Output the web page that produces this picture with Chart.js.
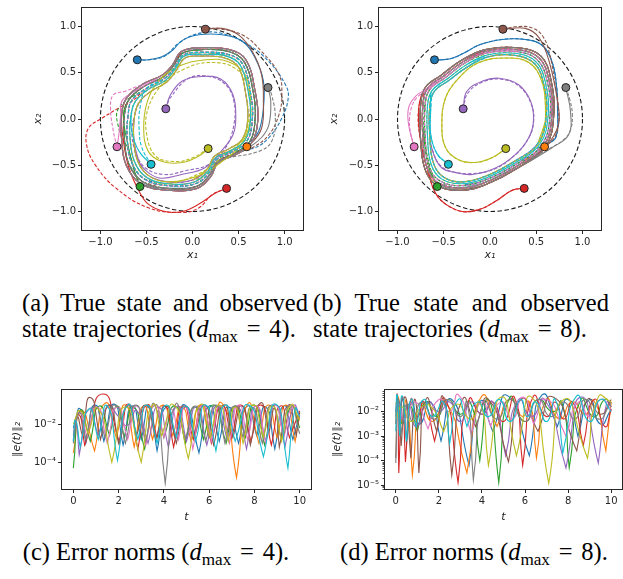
<!DOCTYPE html>
<html>
<head>
<meta charset="utf-8">
<script src="https://cdn.jsdelivr.net/npm/chart.js@4/dist/chart.umd.min.js"></script>
<style>
  html, body { margin: 0; padding: 0; background: #fff; width: 623px; height: 579px; overflow: hidden; position: relative; }
  canvas { position: absolute; }
  .cap { position: absolute; font-family: "Liberation Serif", "Times New Roman", serif; font-size: 24.5px; line-height: 26px; color: #000; text-align: justify; text-align-last: left; }
  .cap.center { text-align: center; text-align-last: center; }
  .cap sub { font-size: 70%; vertical-align: baseline; position: relative; top: 0.3em; }
  .cap .eq { margin: 0 0.36em; }
</style>
</head>
<body>
<canvas id="chartA" width="281" height="265" style="left:29px;top:0"></canvas>
<canvas id="chartB" width="285" height="265" style="left:325px;top:0"></canvas>
<canvas id="chartC" width="305" height="147" style="left:8px;top:380px"></canvas>
<canvas id="chartD" width="312" height="147" style="left:328px;top:380px"></canvas>

<div class="cap" style="left:22px;top:290px;width:286px">(a) True state and observed state trajectories (<i>d</i><sub>max</sub><span class="eq">=</span>4).</div>
<div class="cap" style="left:313px;top:290px;width:296px">(b) True state and observed state trajectories (<i>d</i><sub>max</sub><span class="eq">=</span>8).</div>
<div class="cap center" style="left:6px;top:539px;width:300px">(c) Error norms (<i>d</i><sub>max</sub><span class="eq">=</span>4).</div>
<div class="cap center" style="left:324px;top:539px;width:300px">(d) Error norms (<i>d</i><sub>max</sub><span class="eq">=</span>8).</div>

<script>
// tab10 colours, one per initial condition
const colors = ['#1f77b4', '#ff7f0e', '#2ca02c', '#d62728', '#9467bd', '#8c564b', '#e377c2', '#7f7f7f', '#bcbd22', '#17becf'];

// initial states (same for both phase portraits)
const starts = [[-0.60, 0.64], [0.59, -0.30], [-0.57, -0.73], [0.37, -0.75], [-0.29, 0.11],
                [0.14, 0.97], [-0.82, -0.30], [0.82, 0.34], [0.17, -0.32], [-0.45, -0.49]];

const phaseTicks = [-1.0, -0.5, 0.0, 0.5, 1.0];
const circleRadius = 1;

const cycleA1 = [[-0.77, 0.05], [-0.72, 0.22], [-0.55, 0.37], [-0.32, 0.48], [-0.22, 0.58], [-0.12, 0.73], [0.10, 0.77], [0.40, 0.75], [0.58, 0.64], [0.68, 0.30],
                 [0.71, 0.00], [0.64, -0.26], [0.48, -0.38], [0.28, -0.47], [0.20, -0.62], [0.05, -0.75], [-0.28, -0.77], [-0.56, -0.70], [-0.72, -0.50], [-0.77, -0.22]];
const cycleA2 = [[-0.70, 0.03], [-0.66, 0.20], [-0.50, 0.33], [-0.30, 0.44], [-0.20, 0.55], [-0.10, 0.69], [0.10, 0.72], [0.38, 0.70], [0.54, 0.60], [0.63, 0.28],
                 [0.65, 0.00], [0.59, -0.24], [0.44, -0.35], [0.26, -0.44], [0.18, -0.58], [0.03, -0.70], [-0.27, -0.72], [-0.52, -0.65], [-0.66, -0.47], [-0.71, -0.20]];
const cycleA3 = [[-0.63, 0.03], [-0.58, 0.18], [-0.45, 0.30], [-0.28, 0.40], [-0.18, 0.52], [-0.08, 0.66], [0.10, 0.68], [0.35, 0.66], [0.50, 0.56], [0.58, 0.26],
                 [0.60, 0.00], [0.54, -0.22], [0.40, -0.32], [0.24, -0.40], [0.16, -0.54], [0.00, -0.66], [-0.26, -0.68], [-0.48, -0.61], [-0.60, -0.44], [-0.64, -0.18]];
const cycleA4 = [[-0.74, 0.04], [-0.69, 0.21], [-0.53, 0.35], [-0.31, 0.46], [-0.21, 0.57], [-0.11, 0.71], [0.10, 0.75], [0.39, 0.73], [0.56, 0.62], [0.66, 0.29],
                 [0.68, 0.00], [0.62, -0.25], [0.46, -0.37], [0.27, -0.46], [0.19, -0.60], [0.04, -0.73], [-0.28, -0.75], [-0.54, -0.68], [-0.69, -0.49], [-0.74, -0.21]];
const cycleA5 = [[-0.67, 0.03], [-0.62, 0.19], [-0.48, 0.32], [-0.29, 0.42], [-0.19, 0.54], [-0.09, 0.68], [0.10, 0.70], [0.37, 0.68], [0.52, 0.58], [0.61, 0.27],
                 [0.63, 0.00], [0.57, -0.23], [0.42, -0.34], [0.25, -0.42], [0.17, -0.56], [0.02, -0.68], [-0.27, -0.70], [-0.50, -0.63], [-0.63, -0.46], [-0.68, -0.19]];

const cycleB1 = [[-0.75, 0.15], [-0.70, 0.34], [-0.52, 0.48], [-0.30, 0.64], [-0.05, 0.75], [0.30, 0.77], [0.55, 0.68], [0.66, 0.42],
                 [0.69, 0.05], [0.60, -0.30], [0.30, -0.53], [-0.05, -0.71], [-0.30, -0.77], [-0.57, -0.72], [-0.70, -0.55], [-0.75, -0.22]];
const cycleB2 = [[-0.70, 0.15], [-0.65, 0.32], [-0.48, 0.45], [-0.28, 0.60], [-0.05, 0.71], [0.28, 0.73], [0.51, 0.64], [0.62, 0.40],
                 [0.65, 0.05], [0.56, -0.28], [0.28, -0.49], [-0.05, -0.66], [-0.30, -0.72], [-0.54, -0.67], [-0.66, -0.51], [-0.70, -0.20]];
const cycleB3 = [[-0.65, 0.15], [-0.60, 0.30], [-0.44, 0.42], [-0.25, 0.56], [-0.03, 0.67], [0.26, 0.69], [0.48, 0.60], [0.58, 0.38],
                 [0.61, 0.05], [0.52, -0.26], [0.26, -0.46], [-0.05, -0.62], [-0.30, -0.68], [-0.50, -0.63], [-0.61, -0.48], [-0.65, -0.20]];
const cycleB4 = [[-0.725, 0.15], [-0.675, 0.33], [-0.50, 0.465], [-0.29, 0.62], [-0.05, 0.73], [0.29, 0.75], [0.53, 0.66], [0.64, 0.41],
                 [0.67, 0.05], [0.58, -0.29], [0.29, -0.51], [-0.05, -0.685], [-0.30, -0.745], [-0.555, -0.695], [-0.68, -0.53], [-0.725, -0.21]];
const cycleB5 = [[-0.675, 0.15], [-0.625, 0.31], [-0.46, 0.435], [-0.265, 0.58], [-0.04, 0.69], [0.27, 0.71], [0.495, 0.62], [0.60, 0.39],
                 [0.63, 0.05], [0.54, -0.27], [0.27, -0.475], [-0.05, -0.64], [-0.30, -0.70], [-0.52, -0.65], [-0.635, -0.495], [-0.675, -0.20]];

// (a) transients before settling on a loop, true state
const aTrueHead = [
  [[-0.48, 0.64], [-0.34, 0.67], [-0.22, 0.74], [-0.11, 0.85], [0.07, 0.91], [0.32, 0.91], [0.54, 0.84], [0.68, 0.66], [0.77, 0.41], [0.77, 0.12], [0.72, -0.13]],
  [],
  [[-0.64, -0.53], [-0.71, -0.24], [-0.75, 0.05]],
  [[0.25, -0.80], [0.07, -0.92], [-0.11, -1.0], [-0.30, -1.0], [-0.48, -0.92], [-0.58, -0.78], [-0.69, -0.53], [-0.75, -0.24]],
  [[-0.24, 0.26], [-0.11, 0.41], [0.10, 0.46], [0.31, 0.43], [0.44, 0.26], [0.47, 0.01], [0.44, -0.17], [0.31, -0.35], [0.13, -0.53], [-0.12, -0.60], [-0.34, -0.64], [-0.48, -0.58], [-0.58, -0.46]],
  [[0.32, 0.98], [0.50, 0.91], [0.65, 0.73], [0.75, 0.48], [0.77, 0.19], [0.75, -0.10]],
  [[-0.80, -0.17], [-0.78, 0.05], [-0.77, 0.19], [-0.66, 0.28]],
  [[0.85, 0.19], [0.83, -0.06], [0.75, -0.20], [0.61, -0.31]],
  [[0.07, -0.40], [-0.11, -0.47], [-0.33, -0.46], [-0.48, -0.35], [-0.53, -0.10], [-0.49, 0.19], [-0.37, 0.41], [-0.15, 0.57], [0.14, 0.64], [0.39, 0.62], [0.57, 0.48], [0.63, 0.19], [0.61, -0.10], [0.50, -0.31], [0.32, -0.46], [0.10, -0.60]],
  [[-0.58, -0.35], [-0.66, -0.13], [-0.66, 0.08]]
];
// [loop, first point, number of points]
const aTrueTail = [[3, 11, 26], [0, 12, 28], [3, 1, 26], [0, 0, 26], [2, 19, 22], [0, 11, 26], [0, 3, 24], [0, 12, 26], [2, 16, 20], [4, 1, 26]];

// (a) observed state
const aObsHead = [
  [[-0.48, 0.64], [-0.30, 0.68], [-0.15, 0.82], [0.05, 0.92], [0.30, 0.93], [0.61, 0.80], [0.83, 0.62], [1.01, 0.37], [1.04, 0.23], [0.97, 0.01], [0.83, -0.20], [0.68, -0.31]],
  [[0.52, -0.34]],
  [[-0.62, -0.60], [-0.69, -0.35], [-0.80, -0.10], [-0.80, 0.12]],
  [[0.21, -0.82], [0.07, -0.96], [-0.11, -1.01], [-0.48, -0.96], [-0.84, -0.74], [-1.06, -0.49], [-1.15, -0.28], [-1.13, -0.10], [-0.98, 0.01], [-0.80, 0.12], [-0.66, 0.19]],
  [[-0.24, 0.23], [-0.04, 0.44], [0.18, 0.46], [0.36, 0.37], [0.45, 0.19], [0.45, -0.06], [0.36, -0.31], [0.18, -0.49], [-0.08, -0.56], [-0.30, -0.60], [-0.51, -0.53], [-0.62, -0.35], [-0.66, -0.13]],
  [[0.25, 0.98], [0.54, 0.91], [0.75, 0.73], [0.94, 0.48], [0.97, 0.26], [0.94, 0.05], [0.83, -0.17], [0.65, -0.31]],
  [[-0.86, -0.13], [-0.89, 0.12], [-0.86, 0.26], [-0.73, 0.30], [-0.55, 0.37]],
  [[0.86, 0.26], [0.90, 0.01], [0.86, -0.24], [0.72, -0.35]],
  [[0.00, -0.42], [-0.19, -0.46], [-0.40, -0.40], [-0.50, -0.15], [-0.48, 0.12], [-0.33, 0.37], [-0.11, 0.53], [0.17, 0.61], [0.46, 0.55], [0.60, 0.34], [0.62, 0.05], [0.53, -0.24], [0.35, -0.38], [0.15, -0.55]],
  [[-0.55, -0.31], [-0.58, -0.10], [-0.57, 0.12]]
];
const aObsTail = [[1, 12, 26], [4, 12, 28], [1, 2, 26], [1, 2, 26], [2, 0, 22], [3, 12, 26], [1, 3, 24], [3, 13, 26], [4, 16, 20], [1, 2, 26]];

// (b) true state
const bTrueHead = [
  [[-0.52, 0.64], [-0.40, 0.66], [-0.25, 0.73], [-0.12, 0.80], [0.13, 0.86], [0.38, 0.86], [0.56, 0.80], [0.67, 0.62], [0.72, 0.35], [0.73, 0.12], [0.71, -0.20]],
  [],
  [[-0.66, -0.53], [-0.71, -0.24], [-0.73, 0.12]],
  [[0.24, -0.77], [0.06, -0.89], [-0.12, -0.98], [-0.30, -1.0], [-0.48, -0.92], [-0.59, -0.80], [-0.66, -0.60], [-0.75, -0.24], [-0.77, 0.12]],
  [[-0.25, 0.30], [-0.08, 0.41], [0.10, 0.44], [0.31, 0.37], [0.44, 0.19], [0.47, -0.02], [0.42, -0.20], [0.28, -0.38], [0.06, -0.53], [-0.19, -0.60], [-0.37, -0.58], [-0.52, -0.53], [-0.61, -0.38]],
  [[0.38, 0.98], [0.53, 0.88], [0.64, 0.62], [0.73, 0.19], [0.74, -0.06]],
  [[-0.88, -0.06], [-0.88, 0.12], [-0.80, 0.25], [-0.66, 0.34]],
  [[0.87, 0.08], [0.85, -0.17], [0.67, -0.31]],
  [[0.02, -0.42], [-0.16, -0.47], [-0.34, -0.44], [-0.48, -0.31], [-0.52, -0.06], [-0.48, 0.23], [-0.34, 0.44], [-0.12, 0.61], [0.17, 0.66], [0.42, 0.61], [0.56, 0.41], [0.60, 0.12], [0.58, -0.13], [0.49, -0.31]],
  [[-0.57, -0.38], [-0.64, -0.17], [-0.64, 0.12]]
];
const bTrueTail = [[3, 9, 20], [0, 9, 22], [3, 1, 20], [0, 1, 20], [2, 15, 18], [0, 9, 20], [3, 2, 20], [0, 10, 20], [2, 10, 16], [4, 1, 20]];

// (b) observed state
const bObsHead = [
  [[-0.52, 0.64], [-0.40, 0.66], [-0.25, 0.73], [-0.12, 0.80], [0.13, 0.86], [0.38, 0.86], [0.56, 0.80], [0.67, 0.62], [0.72, 0.35], [0.73, 0.12], [0.71, -0.20]],
  [],
  [[-0.64, -0.55], [-0.70, -0.26], [-0.71, 0.10]],
  [[0.24, -0.77], [0.06, -0.89], [-0.12, -0.98], [-0.30, -1.0], [-0.48, -0.92], [-0.59, -0.80], [-0.66, -0.60], [-0.75, -0.24], [-0.77, 0.12]],
  [[-0.24, 0.28], [-0.08, 0.40], [0.12, 0.43], [0.32, 0.35], [0.45, 0.15], [0.47, -0.05], [0.41, -0.22], [0.27, -0.39], [0.05, -0.54], [-0.20, -0.59], [-0.40, -0.57], [-0.54, -0.50], [-0.62, -0.34]],
  [[0.30, 1.0], [0.47, 0.98], [0.58, 0.88], [0.65, 0.68], [0.70, 0.40], [0.74, 0.10], [0.72, -0.15]],
  [[-0.86, -0.15], [-0.87, 0.00], [-0.85, 0.12], [-0.80, 0.22], [-0.70, 0.30]],
  [[0.86, 0.22], [0.89, 0.05], [0.87, -0.12], [0.80, -0.22], [0.68, -0.30]],
  [[0.02, -0.42], [-0.16, -0.47], [-0.34, -0.44], [-0.48, -0.31], [-0.52, -0.06], [-0.48, 0.23], [-0.34, 0.44], [-0.12, 0.61], [0.17, 0.66], [0.42, 0.61], [0.56, 0.41], [0.60, 0.12], [0.58, -0.13], [0.49, -0.31]],
  [[-0.57, -0.38], [-0.64, -0.17], [-0.64, 0.12]]
];
const bObsTail = [[1, 9, 20], [3, 9, 22], [1, 1, 20], [3, 1, 20], [2, 15, 18], [0, 9, 20], [1, 2, 20], [3, 10, 20], [4, 10, 16], [2, 1, 20]];

// error norms, [t, log10 ||e||] alternating troughs and arches
const timeTicks = [0, 2, 4, 6, 8, 10];
const errTicksC = [1e-4, 1e-2];
const errTicksD = [1e-5, 1e-4, 1e-3, 1e-2];

const errC = [
  [[0,-2.2],[0.3,-1.2],[0.55,-3.0],[0.95,-1.0],[1.35,-2.9],[1.8,-0.95],[2.2,-3.1],[2.6,-1.05],[3.0,-2.8],[3.35,-1.1],[3.7,-3.4],[4.1,-1.1],[4.5,-2.7],[4.95,-1.0],[5.55,-3.5],[6.0,-1.05],[6.45,-2.9],[6.85,-1.1],[7.3,-3.0],[7.7,-1.05],[8.1,-2.6],[8.5,-1.1],[8.9,-3.3],[9.3,-1.05],[9.7,-2.8],[10,-1.5]],
  [[0,-3.5],[0.35,-1.3],[0.94,-3.4],[1.4,-0.9],[1.9,-2.7],[2.3,-1.0],[2.69,-3.2],[3.1,-1.05],[3.5,-2.8],[3.95,-1.0],[4.4,-2.6],[4.8,-1.1],[5.2,-2.9],[5.6,-1.0],[6.0,-2.7],[6.6,-0.95],[7.21,-4.8],[7.7,-0.95],[8.2,-3.0],[8.6,-1.0],[9.0,-2.7],[9.4,-1.0],[9.8,-2.9],[10,-1.4]],
  [[0,-4.3],[0.3,-1.3],[0.75,-2.9],[1.15,-1.05],[1.6,-2.6],[1.95,-1.05],[2.24,-2.7],[2.65,-1.1],[3.15,-3.3],[3.6,-1.0],[4.0,-2.7],[4.5,-1.05],[4.95,-3.0],[5.35,-1.1],[5.75,-2.8],[6.2,-1.0],[6.75,-3.0],[7.15,-1.05],[7.6,-2.7],[8.0,-1.0],[8.45,-3.1],[8.9,-1.0],[9.3,-2.6],[9.65,-1.1],[10,-2.2]],
  [[0,-2.6],[0.25,-1.5],[0.5,-3.1],[1.3,-0.42],[2.05,-3.0],[2.45,-0.95],[2.85,-3.3],[3.25,-1.0],[3.7,-2.7],[4.05,-1.05],[4.43,-3.2],[4.85,-1.05],[5.3,-2.8],[5.7,-1.0],[6.1,-3.0],[6.55,-1.05],[7.0,-2.7],[7.4,-1.0],[7.85,-2.9],[8.3,-1.0],[8.75,-3.1],[9.15,-1.05],[9.55,-2.7],[10,-1.3]],
  [[0,-2.8],[0.12,-2.0],[0.26,-3.6],[0.7,-1.2],[1.1,-2.6],[1.55,-1.05],[2.0,-1.6],[2.4,-2.05],[2.8,-1.3],[3.3,-3.0],[3.75,-1.1],[4.2,-3.2],[4.6,-1.05],[5.0,-2.9],[5.45,-1.1],[5.9,-3.1],[6.35,-1.05],[6.8,-2.8],[7.25,-1.1],[7.65,-3.3],[8.05,-1.05],[8.5,-2.9],[8.95,-1.0],[9.35,-3.2],[9.75,-1.05],[10,-1.5]],
  [[0,-2.9],[0.15,-1.6],[0.4,-2.6],[0.75,-0.6],[1.2,-2.8],[1.6,-1.0],[2.0,-3.0],[2.4,-1.05],[2.8,-2.6],[3.2,-1.0],[3.65,-2.8],[4.1,-1.05],[4.55,-3.0],[4.95,-1.1],[5.35,-2.7],[5.8,-1.0],[6.2,-3.1],[6.65,-1.0],[7.05,-2.7],[7.45,-1.05],[7.82,-3.1],[8.25,-0.9],[8.65,-2.4],[8.9,-1.2],[9.1,-3.2],[9.5,-1.0],[9.85,-2.6],[10,-1.4]],
  [[0,-2.4],[0.3,-1.4],[0.6,-2.7],[1.05,-1.1],[1.5,-3.0],[1.95,-1.1],[2.4,-2.8],[2.8,-1.05],[3.2,-3.1],[3.6,-1.0],[4.0,-2.7],[4.32,-1.2],[4.65,-2.8],[4.95,-1.1],[5.28,-3.3],[5.7,-1.0],[6.1,-2.9],[6.5,-1.05],[6.9,-3.0],[7.3,-1.0],[7.7,-2.8],[8.1,-1.05],[8.5,-3.0],[8.9,-1.0],[9.3,-2.7],[9.7,-1.05],[10,-1.6]],
  [[0,-3.0],[0.25,-1.4],[0.55,-2.8],[0.95,-1.1],[1.4,-2.7],[1.85,-1.0],[2.3,-3.0],[2.75,-1.0],[3.2,-2.9],[3.6,-1.0],[4.06,-5.1],[4.5,-1.0],[4.95,-2.8],[5.4,-1.05],[5.85,-2.9],[6.3,-1.0],[6.7,-3.0],[7.1,-1.05],[7.5,-2.7],[7.9,-1.1],[8.35,-3.0],[8.75,-1.0],[9.2,-2.8],[9.6,-1.0],[10,-2.5]],
  [[0,-2.0],[0.3,-1.3],[0.65,-2.5],[1.1,-1.2],[1.7,-4.0],[2.3,-1.1],[3.0,-4.0],[3.5,-1.0],[3.9,-2.6],[4.45,-1.0],[5.08,-3.8],[5.6,-1.0],[6.05,-2.7],[6.45,-1.0],[6.85,-2.9],[7.15,-1.1],[7.5,-3.0],[7.95,-1.0],[8.4,-2.7],[8.8,-1.05],[9.2,-2.9],[9.6,-1.0],[10,-1.8]],
  [[0,-2.9],[0.1,-1.8],[0.3,-3.2],[0.7,-1.2],[1.1,-2.8],[1.5,-1.05],[1.95,-3.9],[2.4,-1.0],[2.85,-2.8],[3.25,-1.0],[3.7,-3.0],[4.1,-1.0],[4.55,-2.7],[4.95,-1.05],[5.4,-2.9],[5.85,-1.0],[6.3,-3.4],[6.7,-1.0],[7.15,-2.9],[7.75,-1.0],[8.4,-3.7],[8.95,-0.95],[9.48,-4.3],[9.8,-1.2],[10,-1.6]]
];

const errD = [
  [[0,-2.0],[0.08,-1.35],[0.2,-2.8],[0.32,-1.5],[0.5,-3.3],[0.75,-1.6],[1.1,-2.5],[1.6,-1.6],[2.1,-3.2],[2.6,-1.5],[3.4,-4.2],[3.9,-1.6],[4.5,-2.8],[5.2,-1.35],[6.2,-3.8],[6.8,-1.3],[7.5,-2.6],[8.0,-1.5],[8.45,-3.0],[9.0,-1.5],[9.5,-2.5],[10,-1.9]],
  [[0,-1.7],[0.12,-1.4],[0.3,-2.6],[0.5,-1.6],[0.77,-4.6],[1.2,-1.7],[1.7,-2.4],[2.3,-1.6],[3.3,-4.5],[4.0,-1.35],[4.7,-2.6],[5.3,-1.5],[5.9,-2.2],[6.2,-1.6],[6.53,-3.9],[7.0,-1.5],[7.6,-2.3],[8.2,-1.6],[8.8,-2.1],[9.2,-1.55],[9.75,-3.6],[10,-1.6]],
  [[0,-2.2],[0.1,-1.5],[0.3,-2.5],[0.6,-1.7],[1.0,-2.8],[1.4,-1.6],[1.9,-2.2],[2.4,-1.5],[3.0,-2.1],[3.45,-1.6],[3.9,-4.0],[4.3,-1.5],[4.78,-4.9],[5.3,-1.4],[6.0,-2.4],[6.6,-1.5],[7.3,-2.0],[7.7,-1.6],[8.05,-4.3],[8.6,-1.5],[9.2,-2.2],[9.7,-1.5],[10,-1.8]],
  [[0,-2.5],[0.07,-1.3],[0.14,-4.5],[0.3,-1.4],[0.45,-4.05],[0.7,-1.5],[1.0,-2.2],[1.3,-1.6],[1.8,-3.2],[2.3,-1.5],[2.89,-4.9],[3.4,-1.5],[4.0,-2.1],[4.5,-1.6],[5.0,-2.4],[5.5,-1.4],[5.89,-4.2],[6.4,-1.35],[7.0,-2.2],[7.4,-1.6],[7.8,-2.3],[8.2,-1.6],[8.7,-3.4],[9.2,-1.5],[9.7,-2.6],[10,-1.9]],
  [[0,-1.8],[0.15,-1.6],[0.35,-2.4],[0.6,-1.7],[0.95,-2.6],[1.5,-1.6],[2.0,-2.0],[2.5,-1.6],[3.0,-2.4],[3.5,-1.6],[4.0,-2.1],[4.5,-1.6],[5.1,-3.8],[5.7,-1.5],[6.3,-2.2],[6.9,-1.5],[7.9,-4.3],[8.6,-1.4],[9.4,-4.1],[9.8,-1.6],[10,-1.8]],
  [[0,-3.9],[0.1,-1.5],[0.25,-3.4],[0.45,-1.4],[0.7,-3.9],[0.9,-1.5],[1.07,-4.5],[1.4,-1.5],[1.9,-2.8],[2.2,-1.4],[2.6,-4.6],[3.1,-1.5],[3.7,-2.6],[4.3,-1.5],[5.23,-4.05],[5.8,-1.5],[6.6,-2.8],[7.3,-1.4],[8.4,-3.6],[8.9,-1.5],[9.5,-2.1],[10,-1.5]],
  [[0,-2.2],[0.15,-1.7],[0.4,-2.3],[0.9,-1.6],[1.5,-2.7],[2.0,-1.5],[2.5,-2.0],[2.9,-1.3],[3.5,-2.9],[4.0,-1.6],[4.4,-2.6],[4.9,-1.6],[5.4,-2.3],[5.9,-1.4],[6.4,-2.5],[7.0,-1.5],[7.9,-3.0],[8.5,-1.6],[9.0,-2.2],[9.5,-1.5],[10,-1.9]],
  [[0,-4.1],[0.1,-1.6],[0.25,-2.9],[0.5,-1.7],[0.8,-2.4],[1.2,-1.6],[1.8,-2.3],[2.4,-1.5],[3.0,-2.2],[3.3,-1.6],[3.6,-4.8],[4.1,-1.6],[4.7,-2.3],[5.3,-1.5],[6.0,-2.4],[6.6,-1.5],[7.2,-2.2],[7.8,-1.6],[8.3,-2.3],[8.8,-1.5],[9.4,-2.3],[10,-1.6]],
  [[0,-2.3],[0.3,-1.8],[0.7,-2.4],[1.2,-1.8],[1.7,-1.85],[2.22,-2.82],[2.8,-1.7],[3.5,-2.3],[3.9,-1.6],[4.3,-4.2],[4.9,-1.4],[5.6,-3.8],[6.3,-1.4],[7.1,-4.93],[7.8,-1.5],[8.9,-3.9],[9.4,-1.4],[10,-1.6]],
  [[0,-2.8],[0.06,-1.3],[0.18,-3.0],[0.3,-1.35],[0.5,-3.2],[0.7,-1.5],[0.95,-2.6],[1.3,-1.5],[1.7,-2.2],[2.2,-1.6],[2.5,-3.3],[2.9,-1.5],[3.3,-2.6],[3.8,-1.6],[4.3,-2.2],[4.8,-1.5],[5.3,-2.4],[5.8,-1.5],[6.1,-2.2],[6.5,-1.6],[7.0,-2.4],[7.4,-1.5],[7.75,-3.7],[8.4,-1.35],[9.0,-2.4],[9.5,-1.5],[10,-2.0]]
];

const ink = '#262626';
const tickFont = { family: 'DejaVu Sans', size: 10 };
const titleFont = { family: 'DejaVu Sans', size: 11, style: 'italic' };
const supDigits = { '-': '\u207B', '0': '\u2070', '1': '\u00B9', '2': '\u00B2', '3': '\u00B3', '4': '\u2074', '5': '\u2075', '6': '\u2076' };

function pathPoints(start, head, loops, tail) {
  const loop = loops[tail[0]];
  const pts = [start].concat(head);
  for (let i = 0; i < tail[2]; i++) pts.push(loop[(tail[1] + i) % loop.length]);
  return pts.map(p => ({ x: p[0], y: p[1] }));
}

// troughs are drawn as a doubled point so the spline ends in a cusp
function errPoints(series) {
  const out = [];
  series.forEach((p, i) => {
    const pt = { x: p[0], y: Math.pow(10, p[1]) };
    out.push(pt);
    const prev = series[i - 1], next = series[i + 1];
    if (prev && next && p[1] < prev[1] - 0.9 && p[1] < next[1] - 0.9) out.push({ x: pt.x, y: pt.y });
  });
  return out;
}

function logLabel(v) {
  const e = String(Math.round(Math.log10(v)));
  return '10' + e.split('').map(c => supDigits[c]).join('');
}

const framePlugin = {
  id: 'frame',
  afterDraw(chart) {
    const { ctx, chartArea: a } = chart;
    ctx.save();
    ctx.strokeStyle = ink;
    ctx.lineWidth = 1;
    ctx.strokeRect(Math.round(a.left) - 0.5, Math.round(a.top) - 0.5, Math.round(a.right - a.left) + 1, Math.round(a.bottom - a.top) + 1);
    ctx.restore();
  }
};

const circlePlugin = {
  id: 'unitCircle',
  beforeDatasetsDraw(chart) {
    const { ctx } = chart;
    const xs = chart.scales.x, ys = chart.scales.y;
    const cx = xs.getPixelForValue(0), cy = ys.getPixelForValue(0);
    ctx.save();
    ctx.strokeStyle = '#1a1a1a';
    ctx.lineWidth = 1.1;
    ctx.setLineDash([4.5, 2.5]);
    ctx.beginPath();
    ctx.ellipse(cx, cy, xs.getPixelForValue(circleRadius) - cx, cy - ys.getPixelForValue(circleRadius), 0, 0, 2 * Math.PI);
    ctx.stroke();
    ctx.restore();
  }
};

const minorTicksPlugin = {
  id: 'minorTicks',
  afterDraw(chart) {
    const ys = chart.scales.y;
    const { ctx, chartArea: a } = chart;
    ctx.save();
    ctx.strokeStyle = ink;
    ctx.lineWidth = 0.8;
    for (let k = -6; k < 0; k++) {
      for (let m = 2; m <= 9; m++) {
        const v = m * Math.pow(10, k);
        if (v < ys.min || v > ys.max) continue;
        const y = Math.round(ys.getPixelForValue(v)) + 0.5;
        ctx.beginPath();
        ctx.moveTo(a.left - 2.5, y);
        ctx.lineTo(a.left, y);
        ctx.stroke();
      }
    }
    ctx.restore();
  }
};

function axis(extra) {
  return Object.assign({
    grid: { drawOnChartArea: false, color: ink, tickLength: 4, tickWidth: 1 },
    border: { display: false },
    ticks: { font: tickFont, color: ink, padding: 2, autoSkip: false, maxRotation: 0 }
  }, extra);
}

function phaseChart(id, headsTrue, tailsTrue, headsObs, tailsObs, loops, yWidth, rightPad) {
  const datasets = [];
  colors.forEach((c, i) => {
    datasets.push({ data: pathPoints(starts[i], headsTrue[i], loops, tailsTrue[i]), borderColor: c, borderWidth: 1.1, tension: 0.4, showLine: true, pointRadius: 0, order: 30 - 2 * i });
    datasets.push({ data: pathPoints(starts[i], headsObs[i], loops, tailsObs[i]), borderColor: c, borderWidth: 1.1, borderDash: [3.5, 1.8], tension: 0.4, showLine: true, pointRadius: 0, order: 29 - 2 * i });
  });
  datasets.push({
    data: starts.map(p => ({ x: p[0], y: p[1] })),
    pointRadius: 4, pointBackgroundColor: colors, pointBorderColor: '#222', pointBorderWidth: 1, showLine: false, order: 0
  });
  const fmt = v => v.toFixed(1).replace('-', '\u2212');
  new Chart(document.getElementById(id), {
    type: 'scatter',
    data: { datasets },
    plugins: [circlePlugin, framePlugin],
    options: {
      responsive: false, animation: false, events: [],
      layout: { padding: { top: 8, right: rightPad, left: 0, bottom: 0 } },
      plugins: { legend: { display: false }, tooltip: { enabled: false } },
      scales: {
        x: axis({
          type: 'linear', min: -1.2, max: 1.2,
          afterBuildTicks: s => { s.ticks = phaseTicks.map(v => ({ value: v })); },
          afterFit: s => { s.height = 35; },
          ticks: { font: tickFont, color: ink, padding: 2, autoSkip: false, maxRotation: 0, callback: fmt },
          title: { display: true, text: 'x\u2081', font: titleFont, color: ink, padding: { top: 0, bottom: 3 } }
        }),
        y: axis({
          type: 'linear', min: -1.2, max: 1.2,
          afterBuildTicks: s => { s.ticks = phaseTicks.map(v => ({ value: v })); },
          afterFit: s => { s.width = yWidth; },
          ticks: { font: tickFont, color: ink, padding: 2, autoSkip: false, callback: fmt },
          title: { display: true, text: 'x\u2082', font: titleFont, color: ink, padding: { top: 3, bottom: 0 } }
        })
      }
    }
  });
}

function errorChart(id, series, yMin, yMax, yTicks, withMinor, yWidth, rightPad) {
  const datasets = series.map((s, i) => ({
    data: errPoints(s), borderColor: colors[i], borderWidth: 1.1, tension: 0.65, showLine: true, pointRadius: 0, order: 20 - i
  }));
  new Chart(document.getElementById(id), {
    type: 'scatter',
    data: { datasets },
    plugins: withMinor ? [framePlugin, minorTicksPlugin] : [framePlugin],
    options: {
      responsive: false, animation: false, events: [],
      layout: { padding: { top: 10, right: rightPad, left: 0, bottom: 0 } },
      plugins: { legend: { display: false }, tooltip: { enabled: false } },
      scales: {
        x: axis({
          type: 'linear', min: -0.5, max: 10.5,
          afterBuildTicks: s => { s.ticks = timeTicks.map(v => ({ value: v })); },
          afterFit: s => { s.height = 38; },
          ticks: { font: tickFont, color: ink, padding: 2, autoSkip: false, maxRotation: 0, callback: v => String(v) },
          title: { display: true, text: 't', font: titleFont, color: ink, padding: { top: 0, bottom: 3 } }
        }),
        y: axis({
          type: 'logarithmic', min: yMin, max: yMax,
          afterBuildTicks: s => { s.ticks = yTicks.map(v => ({ value: v })); },
          afterFit: s => { s.width = yWidth; },
          ticks: { font: tickFont, color: ink, padding: 2, autoSkip: false, callback: v => logLabel(v) },
          title: { display: true, text: '\u2016e(t)\u2016\u2082', font: titleFont, color: ink, padding: { top: 3, bottom: 0 } }
        })
      }
    }
  });
}

phaseChart('chartA', aTrueHead, aTrueTail, aObsHead, aObsTail, [cycleA1, cycleA2, cycleA3, cycleA4, cycleA5], 53, 7);
phaseChart('chartB', bTrueHead, bTrueTail, bObsHead, bObsTail, [cycleB1, cycleB2, cycleB3, cycleB4, cycleB5], 54, 9);
errorChart('chartC', errC, Math.pow(10, -5.39), Math.pow(10, -0.21), errTicksC, false, 54, 2);
errorChart('chartD', errD, Math.pow(10, -5.16), Math.pow(10, -1.11), errTicksD, true, 57, 18);
</script>
</body>
</html>
